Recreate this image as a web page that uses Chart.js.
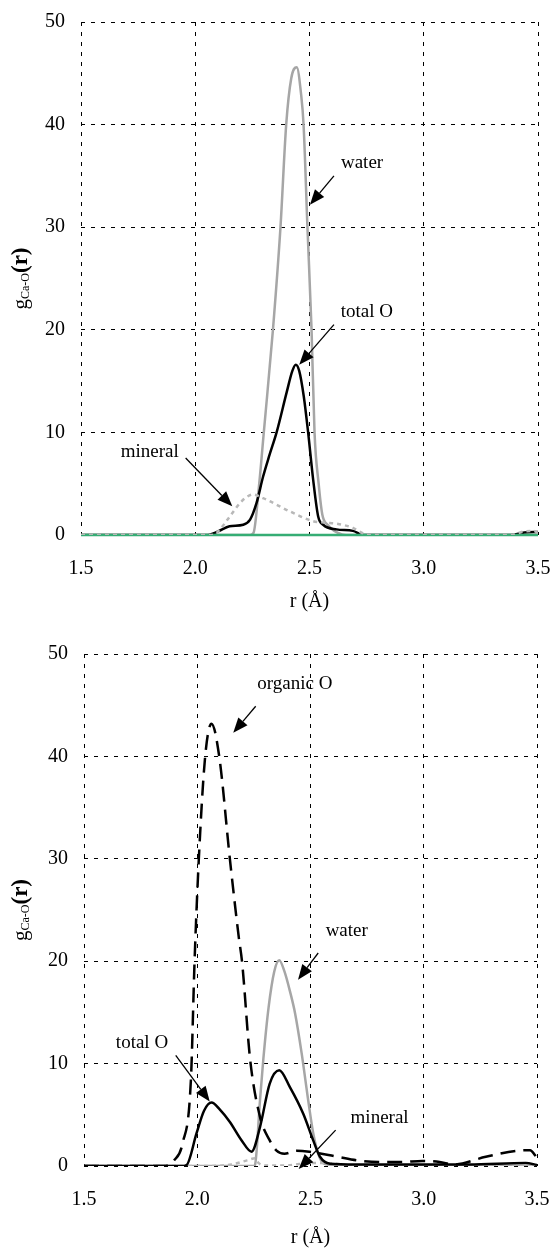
<!DOCTYPE html>
<html>
<head>
<meta charset="utf-8">
<script src="https://cdn.jsdelivr.net/npm/chart.js@4.4.1/dist/chart.umd.min.js"></script>
<style>
  html, body { margin: 0; padding: 0; background: #fff; }
  .box { position: absolute; left: 0; width: 552px; }
  #top { top: 0; height: 620px; }
  #bottom { top: 620px; height: 628px; }
</style>
</head>
<body>
<div class="box" id="top"><canvas id="topChart"></canvas></div>
<div class="box" id="bottom"><canvas id="bottomChart"></canvas></div>
<script>
var serif = "'Liberation Serif', 'Times New Roman', serif";

// axis ticks
var xTicks = [1.5, 2.0, 2.5, 3.0, 3.5];
var yTicks = [0, 10, 20, 30, 40, 50];

// top panel: r (A) and g(r) for each oxygen type
var topWaterR = [1.5, 2.24, 2.255, 2.28, 2.30, 2.34, 2.373, 2.398, 2.42, 2.444, 2.463, 2.474, 2.491, 2.509, 2.522, 2.54, 2.556, 2.579, 2.625, 2.66, 3.5];
var topWaterG = [0, 0, 0.2, 5, 10, 20, 30, 40, 44.5, 45.6, 43, 40, 30, 20, 10, 5, 2, 1, 0.2, 0, 0];

var topTotalR = [1.5, 2.05, 2.10, 2.15, 2.21, 2.24, 2.268, 2.297, 2.325, 2.356, 2.40, 2.425, 2.44, 2.455, 2.475, 2.494, 2.516, 2.538, 2.56, 2.618, 2.69, 2.735, 3.38, 3.44, 3.5];
var topTotalG = [0, 0, 0.35, 0.85, 1.0, 1.5, 3.1, 5.7, 7.8, 10, 13.9, 16.0, 16.6, 16.0, 13.5, 10, 5.4, 1.8, 1.0, 0.55, 0.4, 0, 0, 0.25, 0.3];

var topMineralR = [1.5, 2.07, 2.093, 2.151, 2.195, 2.225, 2.253, 2.297, 2.414, 2.516, 2.57, 2.618, 2.69, 2.735, 2.76, 3.38, 3.44, 3.48, 3.5];
var topMineralG = [0, 0, 0.2, 1.8, 3.1, 3.7, 3.95, 3.6, 2.3, 1.35, 1.2, 1.1, 0.7, 0.15, 0, 0, 0.35, 0.4, 0.2];

var topOrganicR = [1.5, 3.5];
var topOrganicG = [0, 0];

// bottom panel
var botOrganicR = [1.5, 1.855, 1.90, 1.935, 1.972, 1.988, 2.007, 2.035, 2.063, 2.097, 2.144, 2.183, 2.198, 2.233, 2.277, 2.32, 2.35, 2.385, 2.44, 2.495, 2.619, 2.704, 2.80, 2.90, 2.993, 3.07, 3.134, 3.274, 3.414, 3.469, 3.5];
var botOrganicG = [0, 0, 0.6, 2.2, 8.4, 19.9, 30, 40, 43.2, 40, 30, 22.4, 19.9, 10.5, 4.8, 2.5, 1.5, 1.2, 1.5, 1.4, 0.9, 0.55, 0.4, 0.4, 0.5, 0.4, 0.15, 0.9, 1.5, 1.55, 0.8];

var botTotalR = [1.5, 1.93, 1.953, 1.997, 2.03, 2.063, 2.10, 2.144, 2.196, 2.24, 2.277, 2.32, 2.362, 2.409, 2.468, 2.512, 2.542, 2.586, 2.70, 3.0, 3.2, 3.45, 3.5];
var botTotalG = [0, 0, 0.1, 3.2, 5.4, 6.2, 5.5, 4.3, 2.5, 1.4, 3.8, 8.05, 9.35, 7.7, 5.1, 2.5, 0.9, 0.23, 0.15, 0.15, 0.15, 0.3, 0.1];

var botWaterR = [1.5, 2.25, 2.255, 2.277, 2.292, 2.315, 2.34, 2.362, 2.385, 2.41, 2.432, 2.461, 2.49, 2.512, 2.534, 2.557, 2.60, 2.70, 3.5];
var botWaterG = [0, 0, 0.1, 6.4, 10.5, 15.5, 19, 20.1, 19, 17, 14.9, 11.0, 6.4, 3.2, 1.2, 0.25, 0.1, 0, 0];

var botMineralR = [1.5, 2.04, 2.15, 2.22, 2.255, 2.27, 2.30, 2.40, 2.45, 2.55, 2.62, 2.70, 3.5];
var botMineralG = [0, 0, 0.15, 0.55, 0.75, 0.3, 0.05, 0.05, 0.2, 0.3, 0.2, 0, 0];

// labels with arrows, in data units
var topNotes = [
  { text: 'water',   tx: 2.73,  ty: 35.8, from: [2.607, 35.0], to: [2.502, 32.2] },
  { text: 'total O', tx: 2.751, ty: 21.2, from: [2.607, 20.5], to: [2.455, 16.6] },
  { text: 'mineral', tx: 1.801, ty: 7.62, from: [1.958, 7.5],  to: [2.162, 2.8] }
];
var botNotes = [
  { text: 'organic O', tx: 2.431, ty: 46.6, from: [2.258, 44.9], to: [2.159, 42.3] },
  { text: 'water',     tx: 2.66,  ty: 22.45, from: [2.534, 20.8], to: [2.445, 18.2] },
  { text: 'total O',   tx: 1.756, ty: 11.57, from: [1.905, 10.8], to: [2.055, 6.3] },
  { text: 'mineral',   tx: 2.805, ty: 4.2,  from: [2.611, 3.5],  to: [2.448, -0.3] }
];

function pts(r, g) {
  return r.map(function (v, i) { return { x: v, y: g[i] }; });
}

function lineSet(label, r, g, color, width, dash) {
  return {
    label: label,
    data: pts(r, g),
    borderColor: color,
    borderWidth: width,
    borderDash: dash || [],
    pointRadius: 0,
    fill: false,
    tension: 0.4,
    cubicInterpolationMode: 'monotone'
  };
}

function arrow(ctx, x1, y1, x2, y2) {
  var a = Math.atan2(y2 - y1, x2 - x1), len = 15, hw = 6;
  var bx = x2 - len * Math.cos(a), by = y2 - len * Math.sin(a);
  ctx.lineWidth = 1.3;
  ctx.beginPath();
  ctx.moveTo(x1, y1);
  ctx.lineTo(bx, by);
  ctx.stroke();
  ctx.beginPath();
  ctx.moveTo(x2, y2);
  ctx.lineTo(bx + hw * Math.sin(a), by - hw * Math.cos(a));
  ctx.lineTo(bx - hw * Math.sin(a), by + hw * Math.cos(a));
  ctx.closePath();
  ctx.fill();
}

var decor = {
  id: 'decor',
  afterDraw: function (chart, args, opts) {
    var ctx = chart.ctx, xs = chart.scales.x, ys = chart.scales.y, area = chart.chartArea;
    ctx.save();
    ctx.fillStyle = '#000';
    ctx.strokeStyle = '#000';
    ctx.font = '19px ' + serif;
    ctx.textAlign = 'center';
    ctx.textBaseline = 'alphabetic';
    opts.notes.forEach(function (n) {
      ctx.fillText(n.text, xs.getPixelForValue(n.tx), ys.getPixelForValue(n.ty));
      arrow(ctx,
        xs.getPixelForValue(n.from[0]), ys.getPixelForValue(n.from[1]),
        xs.getPixelForValue(n.to[0]), ys.getPixelForValue(n.to[1]));
    });

    // y title g_Ca-O(r), rotated
    var cy = (area.top + area.bottom) / 2;
    ctx.translate(27, cy);
    ctx.rotate(-Math.PI / 2);
    ctx.textAlign = 'left';
    var f1 = '21px ' + serif, f2 = '12px ' + serif, f3 = 'bold 23px ' + serif;
    ctx.font = f1; var w1 = ctx.measureText('g').width;
    ctx.font = f2; var w2 = ctx.measureText('Ca-O').width;
    ctx.font = f3; var w3 = ctx.measureText('(r)').width;
    var x = -(w1 + w2 + w3) / 2;
    ctx.font = f1; ctx.fillText('g', x, 0); x += w1;
    ctx.font = f2; ctx.fillText('Ca-O', x, 2); x += w2;
    ctx.font = f3; ctx.fillText('(r)', x, 0);
    ctx.restore();
  }
};

function makeOptions(yWidth, xHeight, padding, notes) {
  return {
    responsive: true,
    maintainAspectRatio: false,
    animation: false,
    devicePixelRatio: 1,
    layout: { padding: padding },
    plugins: {
      legend: { display: false },
      tooltip: { enabled: false },
      decor: { notes: notes }
    },
    scales: {
      x: {
        type: 'linear',
        min: 1.5,
        max: 3.5,
        afterBuildTicks: function (axis) {
          axis.ticks = xTicks.map(function (v) { return { value: v }; });
        },
        afterFit: function (axis) { axis.height = xHeight; },
        // invisible tick marks give the label offset without widening the side padding
        grid: { color: '#000', lineWidth: 1, drawTicks: true, tickLength: 22, tickColor: 'rgba(0,0,0,0)' },
        border: { display: false, dash: [4, 6] },
        ticks: {
          padding: 0,
          color: '#000',
          maxRotation: 0,
          autoSkip: false,
          font: { family: serif, size: 20 },
          callback: function (v) { return v.toFixed(1); }
        },
        title: {
          display: true,
          text: 'r (Å)',
          color: '#000',
          padding: 0,
          font: { family: serif, size: 20, lineHeight: 1 }
        }
      },
      y: {
        type: 'linear',
        min: 0,
        max: 50,
        afterBuildTicks: function (axis) {
          axis.ticks = yTicks.map(function (v) { return { value: v }; });
        },
        afterFit: function (axis) { axis.width = yWidth; },
        grid: { color: '#000', lineWidth: 1, drawTicks: true, tickLength: 16, tickColor: 'rgba(0,0,0,0)' },
        border: { display: false, dash: [4, 6] },
        ticks: {
          padding: 0,
          color: '#000',
          font: { family: serif, size: 20 },
          callback: function (v) { return String(v); }
        }
      }
    }
  };
}

var topOrganic = lineSet('organic O', topOrganicR, topOrganicG, '#35ad74', 2.5);
topOrganic.clip = false;

new Chart(document.getElementById('topChart').getContext('2d'), {
  type: 'line',
  data: {
    datasets: [
      lineSet('mineral', topMineralR, topMineralG, '#b8b8b8', 2.5, [4, 4]),
      topOrganic,
      lineSet('total O', topTotalR, topTotalG, '#000000', 2.5),
      lineSet('water', topWaterR, topWaterG, '#a6a6a6', 2.5)
    ]
  },
  options: makeOptions(81, 77, { left: 0, top: 22, right: 14, bottom: 8 }, topNotes),
  plugins: [decor]
});

new Chart(document.getElementById('bottomChart').getContext('2d'), {
  type: 'line',
  data: {
    datasets: [
      lineSet('organic O', botOrganicR, botOrganicG, '#000000', 2.5, [15, 8]),
      lineSet('total O', botTotalR, botTotalG, '#000000', 2.5),
      lineSet('mineral', botMineralR, botMineralG, '#b8b8b8', 2.5, [4, 4]),
      lineSet('water', botWaterR, botWaterG, '#a6a6a6', 2.5)
    ]
  },
  options: makeOptions(84, 82, { left: 0, top: 34, right: 15, bottom: 0 }, botNotes),
  plugins: [decor]
});
</script>
</body>
</html>
